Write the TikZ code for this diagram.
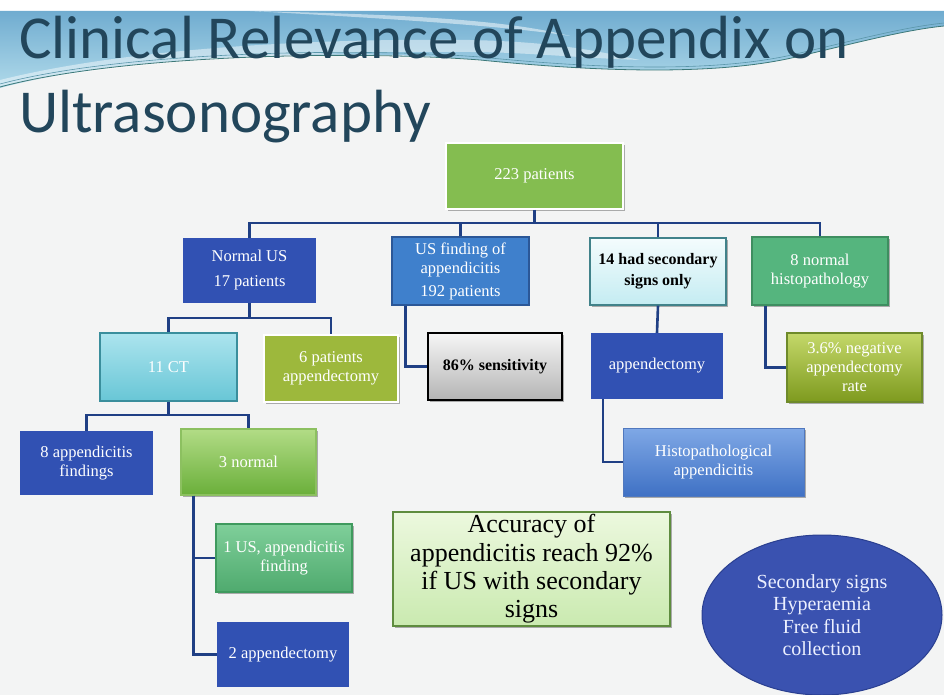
\documentclass[tikz,border=0pt]{standalone}
\usepackage{fontspec}
\setmainfont{Liberation Serif}
\newfontfamily\titlefont{Carlito}
\usetikzlibrary{shapes.geometric,shadows}
\definecolor{bgc}{HTML}{F3F4F4}
\definecolor{titlec}{HTML}{22465B}
\definecolor{linec}{HTML}{1F3F84}
\definecolor{dblue}{HTML}{3151B3}
\definecolor{mblue}{HTML}{3F80CC}
\definecolor{mbluedr}{HTML}{2B5797}
\definecolor{topg}{HTML}{84BD50}
\definecolor{olive}{HTML}{9DB83C}
\definecolor{teal8}{HTML}{55B57E}
\definecolor{teal8dr}{HTML}{3E8E60}
\definecolor{swtop}{RGB}{112,172,208}
\definecolor{swbot}{RGB}{176,218,234}
\definecolor{swl1}{RGB}{60,120,120}
\definecolor{swl2}{RGB}{90,150,170}
\definecolor{cyt}{RGB}{244,252,253}
\definecolor{cyb}{RGB}{196,236,242}
\definecolor{cyd}{RGB}{65,130,138}
\definecolor{ctt}{RGB}{172,228,238}
\definecolor{ctb}{RGB}{104,198,214}
\definecolor{ctd}{RGB}{58,142,156}
\definecolor{grt}{RGB}{246,246,246}
\definecolor{grb}{RGB}{180,180,180}
\definecolor{olt}{RGB}{196,216,106}
\definecolor{olb}{RGB}{126,154,30}
\definecolor{old}{RGB}{110,138,42}
\definecolor{tnt}{RGB}{178,220,134}
\definecolor{tnb}{RGB}{106,175,58}
\definecolor{tnd}{RGB}{140,192,96}
\definecolor{hit}{RGB}{127,168,230}
\definecolor{hib}{RGB}{63,113,196}
\definecolor{hid}{RGB}{80,120,190}
\definecolor{out}{RGB}{127,207,154}
\definecolor{oub}{RGB}{79,170,110}
\definecolor{oud}{RGB}{63,154,94}
\definecolor{act}{RGB}{236,248,222}
\definecolor{acb}{RGB}{202,234,176}
\definecolor{acd}{RGB}{94,140,62}
\definecolor{elf}{RGB}{58,82,176}
\definecolor{eld}{RGB}{42,63,144}
\definecolor{elt}{RGB}{236,240,255}
\tikzset{
  bx/.style={rectangle, align=center, inner sep=2pt, text=white,
    font=\fontsize{16.5}{19}\selectfont},
  shad/.style={drop shadow={shadow xshift=2pt, shadow yshift=-2pt, opacity=0.3, fill=black}},
  conn/.style={draw=linec, line width=2.6pt, line join=miter},
}
\begin{document}
\begin{tikzpicture}[x=1pt,y=-1pt]
\useasboundingbox (0,0) rectangle (944,695);
\fill[bgc] (0,0) rectangle (944,695);
\fill[white] (0,0) rectangle (944,11);
% top swoosh
\shade[top color=swtop, bottom color=swbot]
  (0,11) -- (944,11) -- (944,26) .. controls (905,30) and (860,42) .. (800,56)
  .. controls (720,76) and (600,72) .. (480,60)
  .. controls (350,48) and (120,55) .. (0,88) -- cycle;
\fill[white, opacity=0.45] (0,80) .. controls (120,50) and (300,38) .. (470,40)
  .. controls (560,42) and (600,52) .. (640,60) .. controls (580,58) and (520,52) .. (470,52)
  .. controls (300,50) and (120,62) .. (0,86) -- cycle;
\fill[white, opacity=0.5] (250,11) .. controls (380,14) and (500,18) .. (570,36)
  .. controls (520,28) and (420,20) .. (250,11) -- cycle;
\draw[draw=swl1, line width=0.8pt] (0,87) .. controls (120,55) and (350,50) .. (480,60)
  .. controls (600,72) and (720,76) .. (800,56) .. controls (860,42) and (905,30) .. (944,26);
\draw[draw=swl2, line width=0.6pt] (0,84) .. controls (120,52) and (350,47) .. (480,57)
  .. controls (600,69) and (720,73) .. (800,53) .. controls (860,39) and (905,27) .. (944,23);
% title
\node[anchor=base west, inner sep=0, text=titlec, font=\titlefont\fontsize{61}{61}\selectfont] (t1) at (19,59) {Clinical Relevance of Appendix on};
\node[anchor=base west, inner sep=0, text=titlec, font=\titlefont\fontsize{61}{61}\selectfont] (t2) at (19,133) {Ultrasonography};
% boxes
\node[bx, fill=topg, draw=white, line width=1.5pt, shad, minimum width=177pt, minimum height=66pt] (top) at (534.5,176) {223 patients};
\node[bx, fill=dblue, minimum width=133pt, minimum height=65pt, font=\fontsize{16.5}{25}\selectfont] (normal) at (249.5,270.5) {Normal US\\17 patients};
\node[bx, fill=mblue, draw=mbluedr, line width=1.2pt, minimum width=137pt, minimum height=68pt] (usfind) at (460.5,271) {US finding of\\appendicitis\\[4pt]192 patients};
\node[bx, top color=cyt, bottom color=cyb, draw=cyd, line width=1.2pt, shad, text=black, font=\bfseries\fontsize{16}{21}\selectfont, minimum width=136pt, minimum height=67pt] (sec14) at (658,271.5) {14 had secondary\\signs only};
\node[bx, fill=teal8, draw=teal8dr, line width=1.2pt, shad, minimum width=136pt, minimum height=68pt] (norm8) at (820,271) {8 normal\\histopathology};
\node[bx, top color=ctt, bottom color=ctb, draw=ctd, line width=1.2pt, minimum width=137pt, minimum height=68pt] (ct) at (168.5,367) {11 CT};
\node[bx, fill=olive, draw=white, line width=1.5pt, shad, minimum width=134pt, minimum height=67pt] (six) at (331,368.5) {6 patients\\appendectomy};
\node[bx, top color=grt, bottom color=grb, draw=black, line width=1.2pt, shad, text=black, font=\bfseries\fontsize{16}{19}\selectfont, minimum width=134pt, minimum height=67pt] (sens) at (495,366.5) {86\% sensitivity};
\node[bx, fill=dblue, minimum width=132pt, minimum height=66pt] (appy) at (657,366) {appendectomy};
\node[bx, top color=olt, bottom color=olb, draw=old, line width=1.2pt, shad, minimum width=135pt, minimum height=69pt] (neg) at (854.5,367.5) {3.6\% negative\\appendectomy\\rate};
\node[bx, fill=dblue, minimum width=133pt, minimum height=64pt] (eight) at (86.5,463) {8 appendicitis\\findings};
\node[bx, top color=tnt, bottom color=tnb, draw=tnd, line width=1.2pt, shad, minimum width=135pt, minimum height=66pt] (three) at (248.5,462) {3 normal};
\node[bx, top color=hit, bottom color=hib, draw=hid, line width=1pt, shad, minimum width=181pt, minimum height=68pt] (histo) at (713.5,462) {Histopathological\\appendicitis};
\node[bx, top color=out, bottom color=oub, draw=oud, line width=1.2pt, shad, minimum width=136pt, minimum height=68pt] (oneus) at (284,558) {1 US, appendicitis\\finding};
\node[bx, fill=dblue, minimum width=132pt, minimum height=65pt] (twoap) at (283,654.5) {2 appendectomy};
\node[bx, top color=act, bottom color=acb, draw=acd, line width=1.2pt, shad, text=black, font=\fontsize{26}{28.3}\selectfont, minimum width=277pt, minimum height=114pt] (acc) at (531.5,569) {Accuracy of\\appendicitis reach 92\%\\if US with secondary\\signs};
\node[ellipse, fill=elf, draw=eld, line width=1pt, minimum width=240pt, minimum height=160pt, inner sep=0, align=center, text=elt, font=\fontsize{20}{22.5}\selectfont] (ell) at (822,615) {Secondary signs\\Hyperaemia\\Free fluid\\collection};
% connectors
\coordinate (b1) at (534.5,223);
\coordinate (b2) at (249.5,318);
\coordinate (b3) at (168.5,415);
\draw[conn] (top.south) -- (b1);
\draw[conn] (normal.north) |- (b1) -| (norm8.north);
\draw[conn] (usfind.north) -- (usfind.north |- b1);
\draw[conn] (sec14.north) -- (sec14.north |- b1);
\draw[conn] (normal.south) -- (b2);
\draw[conn] (ct.north) |- (b2) -| (six.north);
\draw[conn] (ct.south) -- (b3);
\draw[conn] (eight.north) |- (b3) -| (three.north);
\draw[conn] (usfind.south west) ++(14,0) |- (sens.west);
\draw[conn] (sec14.south) -- (appy.north);
\draw[conn] (appy.south west) ++(12,0) |- (histo.west);
\draw[conn] (norm8.south west) ++(14,0) |- (neg.west);
\draw[conn] (three.south west) ++(13,0) |- (oneus.west);
\draw[conn] (three.south west) ++(13,0) |- (twoap.west);
\end{tikzpicture}
\end{document}
